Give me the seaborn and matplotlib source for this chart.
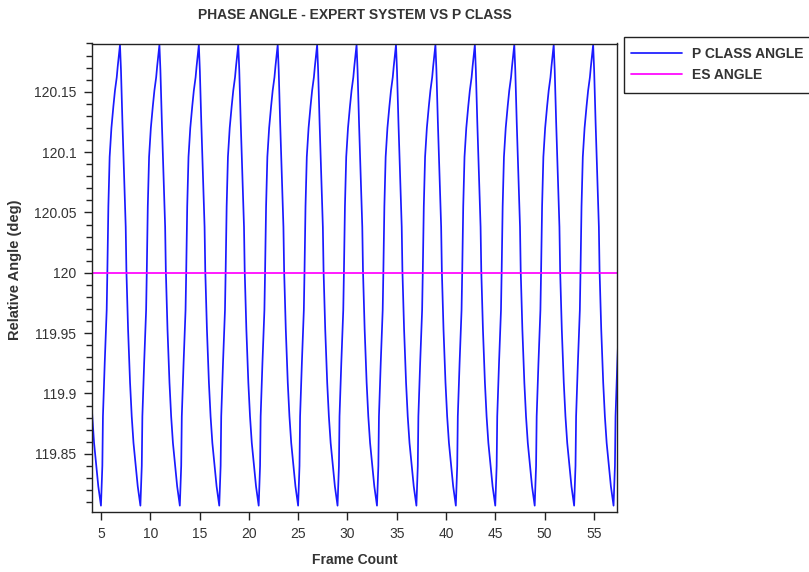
import matplotlib
matplotlib.use("Agg")
import matplotlib.pyplot as plt
from matplotlib.patches import Rectangle
from matplotlib.ticker import MultipleLocator, FuncFormatter
import seaborn as sns
import pandas as pd

# One cycle of the P class angle, as offsets (frames) from each trough
cycle_offset = [0.00, 0.14, 0.20, 0.38, 0.58, 0.65, 0.75, 0.88, 1.06, 1.26,
                1.42, 1.60, 1.70, 1.93, 2.03, 2.18, 2.34, 2.51, 2.58, 2.75,
                2.95, 3.12, 3.30, 3.53, 3.73]
cycle_angle = [119.807, 119.840, 119.881, 119.925, 119.969, 120.002, 120.055,
               120.096, 120.120, 120.138, 120.151, 120.162, 120.171, 120.189,
               120.168, 120.124, 120.083, 120.038, 120.002, 119.953, 119.909,
               119.881, 119.859, 119.840, 119.823]
# Frames at which each cycle bottoms out
trough_frames = [1, 5, 9, 13, 17, 21, 25, 29, 33, 37, 41, 45, 49, 53, 57]

# Expert system angle, constant over the run
es_frames = [1, 61]
es_angle = [120.0, 120.0]

x_ticks = [5, 10, 15, 20, 25, 30, 35, 40, 45, 50, 55]
y_ticks = [119.85, 119.9, 119.95, 120.0, 120.05, 120.1, 120.15]

p_class = pd.DataFrame({
    "frame": [t + o for t in trough_frames for o in cycle_offset],
    "angle": [a for _ in trough_frames for a in cycle_angle],
})
es = pd.DataFrame({"frame": es_frames, "angle": es_angle})

sns.set_style("white")
plt.rcParams["font.family"] = ["Liberation Sans", "DejaVu Sans"]

W, H = 809, 572
fig = plt.figure(figsize=(W / 100, H / 100), dpi=100)
ax = fig.add_axes([91.7 / W, 1 - 511.7 / H, (617.3 - 91.7) / W, (511.7 - 43.5) / H])

sns.lineplot(data=p_class, x="frame", y="angle", ax=ax, color="#1a1aff",
             linewidth=1.25, estimator=None, sort=False, label="P CLASS ANGLE")
sns.lineplot(data=es, x="frame", y="angle", ax=ax, color="#ff00ff",
             linewidth=1.25, estimator=None, sort=False, label="ES ANGLE")

ax.set_xlim(4.06, 57.38)
ax.set_ylim(119.802, 120.190)
ax.set_xticks(x_ticks)
ax.set_yticks(y_ticks)
ax.yaxis.set_minor_locator(MultipleLocator(0.01))
ax.yaxis.set_major_formatter(FuncFormatter(lambda v, p: f"{v:g}"))
ax.set_xlabel("")
ax.set_ylabel("")

for s in ax.spines.values():
    s.set_visible(True)
    s.set_color("#222222")
    s.set_linewidth(1.0)

ax.tick_params(axis="both", which="major", direction="out", length=6, width=1,
               color="#222222", labelsize=10, labelcolor="#333333", pad=5)
ax.tick_params(axis="y", which="minor", direction="out", length=4, width=1,
               color="#222222", left=True)
ax.tick_params(axis="x", which="both", bottom=True, top=False)
ax.tick_params(axis="y", which="both", left=True, right=False)

# Legend entries, with a plain rectangular box drawn around them
ax.get_legend().remove()
handles, labels = ax.get_legend_handles_labels()
leg = fig.legend(handles, labels, loc="upper left",
                 bbox_to_anchor=(624 / W, 1 - 40.4 / H), borderaxespad=0,
                 frameon=False, handlelength=3.72, handletextpad=0.72,
                 borderpad=0.48, labelspacing=0.5,
                 prop={"size": 10, "weight": "bold"})
for t in leg.get_texts():
    t.set_color("#333333")
fig.add_artist(Rectangle((624 / W, 1 - 93.3 / H), (816 - 624) / W,
                         (93.3 - 37.3) / H, transform=fig.transFigure,
                         fill=False, edgecolor="#222222", linewidth=1.0))

fig.text(354.5 / W, 1 - 15 / H, "PHASE ANGLE - EXPERT SYSTEM VS P CLASS",
         ha="center", va="center", fontsize=10, fontweight="bold", color="#333333")
fig.text(354.5 / W, 1 - 560 / H, "Frame Count",
         ha="center", va="center", fontsize=10, fontweight="bold", color="#333333")
fig.text(15 / W, 1 - 270 / H, "Relative Angle (deg)", rotation=90,
         ha="center", va="center", fontsize=10.5, fontweight="bold", color="#333333")

fig.savefig("out.png", dpi=100)
